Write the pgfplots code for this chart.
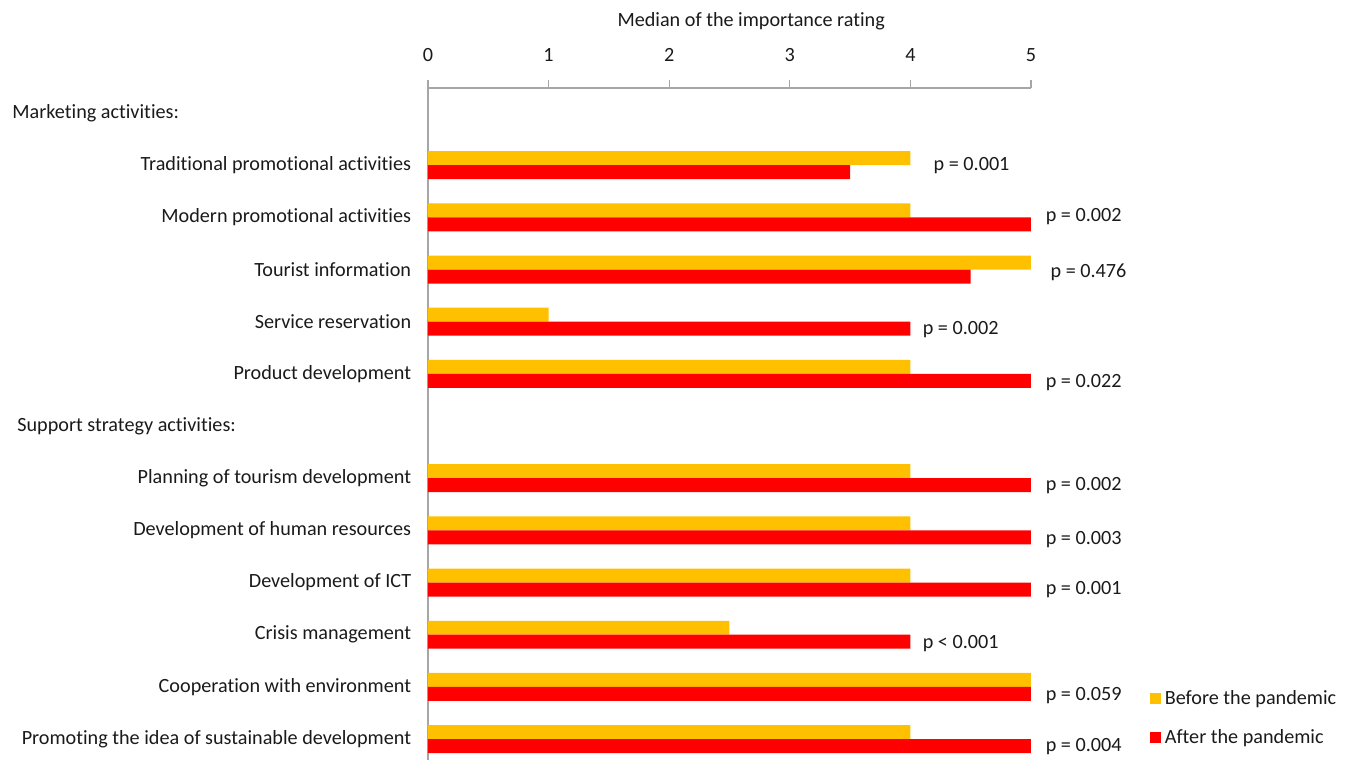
\documentclass[border=0pt]{standalone}
\usepackage{fontspec}
\setmainfont{Carlito}[Ligatures=NoCommon]
\usepackage{pgfplots}
\pgfplotsset{compat=1.18}

\definecolor{before}{HTML}{FFC000}
\definecolor{after}{HTML}{FF0000}
\definecolor{txt}{HTML}{1A1A1A}
\definecolor{axl}{HTML}{A6A6A6}

\begin{document}
\begin{tikzpicture}[font=\fontsize{11pt}{13pt}\selectfont, text=txt]
\begin{axis}[
  width=328.6pt, height=366.2pt, scale only axis,
  xmin=0, xmax=5, ymin=-12.4, ymax=0.48,
  axis x line=top, axis y line=left,
  axis line style={-, draw=axl, line width=0.6pt},
  xtick={0,1,2,3,4,5},
  tick align=outside,
  major tick length=4.4pt,
  xtick style={draw=axl, line width=0.6pt},
  ytick style={draw=none},
  xticklabel style={anchor=base, inner sep=0pt, yshift=10pt},
  ytick={-1,-2,-3,-4,-5,-7,-8,-9,-10,-11,-12},
  yticklabels={Traditional promotional activities, Modern promotional activities, Tourist information, Service reservation, Product development, Planning of tourism development, Development of human resources, Development of ICT, Crisis management, Cooperation with environment, Promoting the idea of sustainable development},
  yticklabel style={inner sep=0pt, xshift=-4.6pt},
  /pgf/number format/assume math mode=true,
  clip=false,
  legend style={at={(1.197,0.062)}, anchor=west, draw=none, fill=none,
    inner sep=0pt, row sep=8pt, font=\fontsize{11pt}{13pt}\selectfont},
  legend cell align=left,
  legend image code/.code={\fill[#1] (0pt,-3pt) rectangle (6pt,3pt);},
]
\addplot[xbar, fill=before, draw=none, bar width=0.268, bar shift=0.134] coordinates {
  (4,-1) (4,-2) (5,-3) (1,-4) (4,-5)
  (4,-7) (4,-8) (4,-9) (2.5,-10) (5,-11) (4,-12)};
\addlegendentry{Before the pandemic}
\addplot[xbar, fill=after, draw=none, bar width=0.268, bar shift=-0.134] coordinates {
  (3.5,-1) (5,-2) (4.5,-3) (4,-4) (5,-5)
  (5,-7) (5,-8) (5,-9) (4,-10) (5,-11) (5,-12)};
\addlegendentry{After the pandemic}

\node[anchor=west, inner sep=0pt] at (axis cs:-3.449,0) {Marketing activities:};
\node[anchor=west, inner sep=0pt] at (axis cs:-3.408,-6) {Support strategy activities:};
\node at (axis cs:2.68,1.75) {Median of the importance rating};

\node[anchor=west, inner sep=0pt] at (axis cs:4.19,-1.0) {p = 0.001};
\node[anchor=west, inner sep=0pt] at (axis cs:5.12,-1.99) {p = 0.002};
\node[anchor=west, inner sep=0pt] at (axis cs:5.16,-3.05) {p = 0.476};
\node[anchor=west, inner sep=0pt] at (axis cs:4.10,-4.16) {p = 0.002};
\node[anchor=west, inner sep=0pt] at (axis cs:5.12,-5.16) {p = 0.022};
\node[anchor=west, inner sep=0pt] at (axis cs:5.12,-7.15) {p = 0.002};
\node[anchor=west, inner sep=0pt] at (axis cs:5.12,-8.17) {p = 0.003};
\node[anchor=west, inner sep=0pt] at (axis cs:5.12,-9.14) {p = 0.001};
\node[anchor=west, inner sep=0pt] at (axis cs:4.10,-10.16) {p < 0.001};
\node[anchor=west, inner sep=0pt] at (axis cs:5.12,-11.16) {p = 0.059};
\node[anchor=west, inner sep=0pt] at (axis cs:5.12,-12.15) {p = 0.004};

\coordinate (bbsw) at (axis cs:-3.549,-12.4);
\coordinate (bbne) at (axis cs:7.637,2.166);
\end{axis}
\pgfresetboundingbox
\path (bbsw) rectangle (bbne);
\end{tikzpicture}
\end{document}
